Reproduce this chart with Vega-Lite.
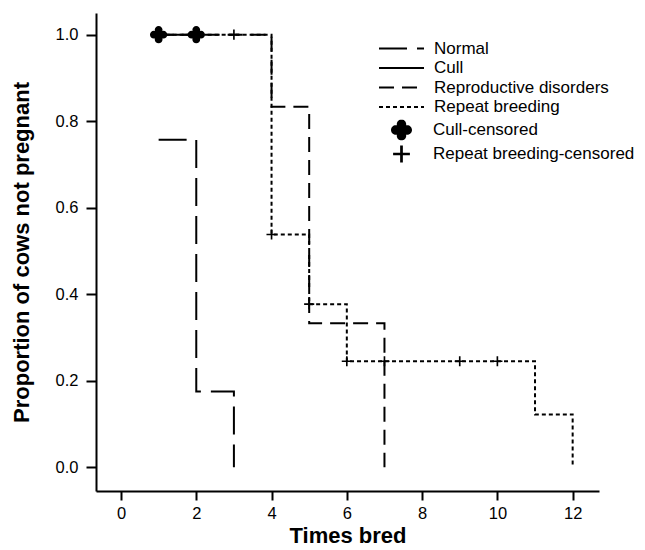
{
  "$schema": "https://vega.github.io/schema/vega-lite/v6.json",
  "width": 503,
  "height": 478,
  "autosize": {"type": "none"},
  "padding": {"left": 96, "top": 13, "right": 46, "bottom": 59},
  "background": "white",
  "config": {
    "view": {"stroke": null},
    "font": "Liberation Sans",
    "axis": {
      "grid": false,
      "domainColor": "black",
      "domainWidth": 2,
      "tickColor": "black",
      "tickWidth": 2,
      "labelColor": "black",
      "titleColor": "black",
      "labelFont": "Liberation Sans",
      "titleFont": "Liberation Sans",
      "labelFontSize": 16.5,
      "titleFontSize": 22,
      "titleFontWeight": "bold"
    },
    "legend": {
      "labelFont": "Liberation Sans",
      "labelFontSize": 17,
      "labelColor": "black",
      "labelLimit": 0,
      "padding": 0
    }
  },
  "datasets": {
    "curves": [
      {"series": "Normal", "times": 1, "proportion": 0.757},
      {"series": "Normal", "times": 2, "proportion": 0.175},
      {"series": "Normal", "times": 3, "proportion": 0},
      {"series": "Cull", "times": 1, "proportion": 1},
      {"series": "Cull", "times": 2, "proportion": 1},
      {"series": "Reproductive disorders", "times": 1, "proportion": 1},
      {"series": "Reproductive disorders", "times": 4, "proportion": 0.833},
      {"series": "Reproductive disorders", "times": 5, "proportion": 0.333},
      {"series": "Reproductive disorders", "times": 7, "proportion": 0},
      {"series": "Repeat breeding", "times": 1, "proportion": 1},
      {"series": "Repeat breeding", "times": 4, "proportion": 0.538},
      {"series": "Repeat breeding", "times": 5, "proportion": 0.377},
      {"series": "Repeat breeding", "times": 6, "proportion": 0.245},
      {"series": "Repeat breeding", "times": 11, "proportion": 0.122},
      {"series": "Repeat breeding", "times": 12, "proportion": 0}
    ],
    "censored": [
      {"censor": "Cull-censored", "times": 1, "proportion": 1},
      {"censor": "Cull-censored", "times": 2, "proportion": 1},
      {"censor": "Repeat breeding-censored", "times": 3, "proportion": 1},
      {"censor": "Repeat breeding-censored", "times": 4, "proportion": 0.538},
      {"censor": "Repeat breeding-censored", "times": 5, "proportion": 0.377},
      {"censor": "Repeat breeding-censored", "times": 6, "proportion": 0.245},
      {"censor": "Repeat breeding-censored", "times": 7, "proportion": 0.245},
      {"censor": "Repeat breeding-censored", "times": 9, "proportion": 0.245},
      {"censor": "Repeat breeding-censored", "times": 10, "proportion": 0.245}
    ]
  },
  "layer": [
    {
      "data": {"name": "curves"},
      "mark": {"type": "line", "interpolate": "step-after", "color": "black", "strokeWidth": 2},
      "encoding": {
        "x": {
          "field": "times", "type": "quantitative",
          "scale": {"domain": [-0.664, 12.7], "nice": false, "zero": false},
          "axis": {"values": [0, 2, 4, 6, 8, 10, 12], "title": "Times bred", "tickSize": 9, "labelPadding": 5, "titlePadding": 4}
        },
        "y": {
          "field": "proportion", "type": "quantitative",
          "scale": {"domain": [-0.055, 1.05], "nice": false, "zero": false},
          "axis": {"values": [0, 0.2, 0.4, 0.6, 0.8, 1], "format": ".1f", "title": "Proportion of cows not pregnant", "tickSize": 10, "labelPadding": 8, "titlePadding": 22}
        },
        "strokeDash": {
          "field": "series", "type": "nominal",
          "scale": {
            "domain": ["Normal", "Cull", "Reproductive disorders", "Repeat breeding"],
            "range": [[28, 10], [1, 0], [15, 8], [4, 3]]
          },
          "legend": {
            "title": null, "orient": "none", "legendX": 282, "legendY": 27,
            "symbolType": "stroke", "symbolSize": 2025, "symbolStrokeWidth": 2,
            "symbolStrokeColor": "black", "clipHeight": 17, "rowPadding": 1.5, "labelOffset": 9
          }
        }
      }
    },
    {
      "data": {"name": "censored"},
      "transform": [{"filter": "datum.censor === 'Cull-censored'"}],
      "mark": {"type": "point", "filled": true, "color": "black", "strokeWidth": 0, "opacity": 1, "size": 300},
      "encoding": {
        "x": {"field": "times", "type": "quantitative"},
        "y": {"field": "proportion", "type": "quantitative"},
        "shape": {
          "field": "censor", "type": "nominal",
          "scale": {
            "domain": ["Cull-censored", "Repeat breeding-censored"],
            "range": [
              "M-0.45,-0.55 A0.45,0.45 0 1,1 0.45,-0.55 A0.45,0.45 0 1,1 -0.45,-0.55 Z M-0.45,0.55 A0.45,0.45 0 1,1 0.45,0.55 A0.45,0.45 0 1,1 -0.45,0.55 Z M-1,0 A0.45,0.45 0 1,1 -0.1,0 A0.45,0.45 0 1,1 -1,0 Z M0.1,0 A0.45,0.45 0 1,1 1,0 A0.45,0.45 0 1,1 0.1,0 Z M-0.3,-0.3 L0.3,-0.3 L0.3,0.3 L-0.3,0.3 Z",
              "M-0.8,-0.13 L-0.13,-0.13 L-0.13,-0.8 L0.13,-0.8 L0.13,-0.13 L0.8,-0.13 L0.8,0.13 L0.13,0.13 L0.13,0.8 L-0.13,0.8 L-0.13,0.13 L-0.8,0.13 Z"
            ]
          },
          "legend": {
            "title": null, "orient": "none", "legendX": 295, "legendY": 106.5,
            "symbolSize": 441, "symbolFillColor": "black", "symbolStrokeWidth": 0,
            "clipHeight": 21, "rowPadding": 3, "labelOffset": 21
          }
        }
      }
    },
    {
      "data": {"name": "censored"},
      "transform": [{"filter": "datum.censor === 'Repeat breeding-censored'"}],
      "mark": {"type": "point", "filled": true, "color": "black", "strokeWidth": 0, "opacity": 1, "size": 160},
      "encoding": {
        "x": {"field": "times", "type": "quantitative"},
        "y": {"field": "proportion", "type": "quantitative"},
        "shape": {"field": "censor", "type": "nominal"}
      }
    }
  ]
}
